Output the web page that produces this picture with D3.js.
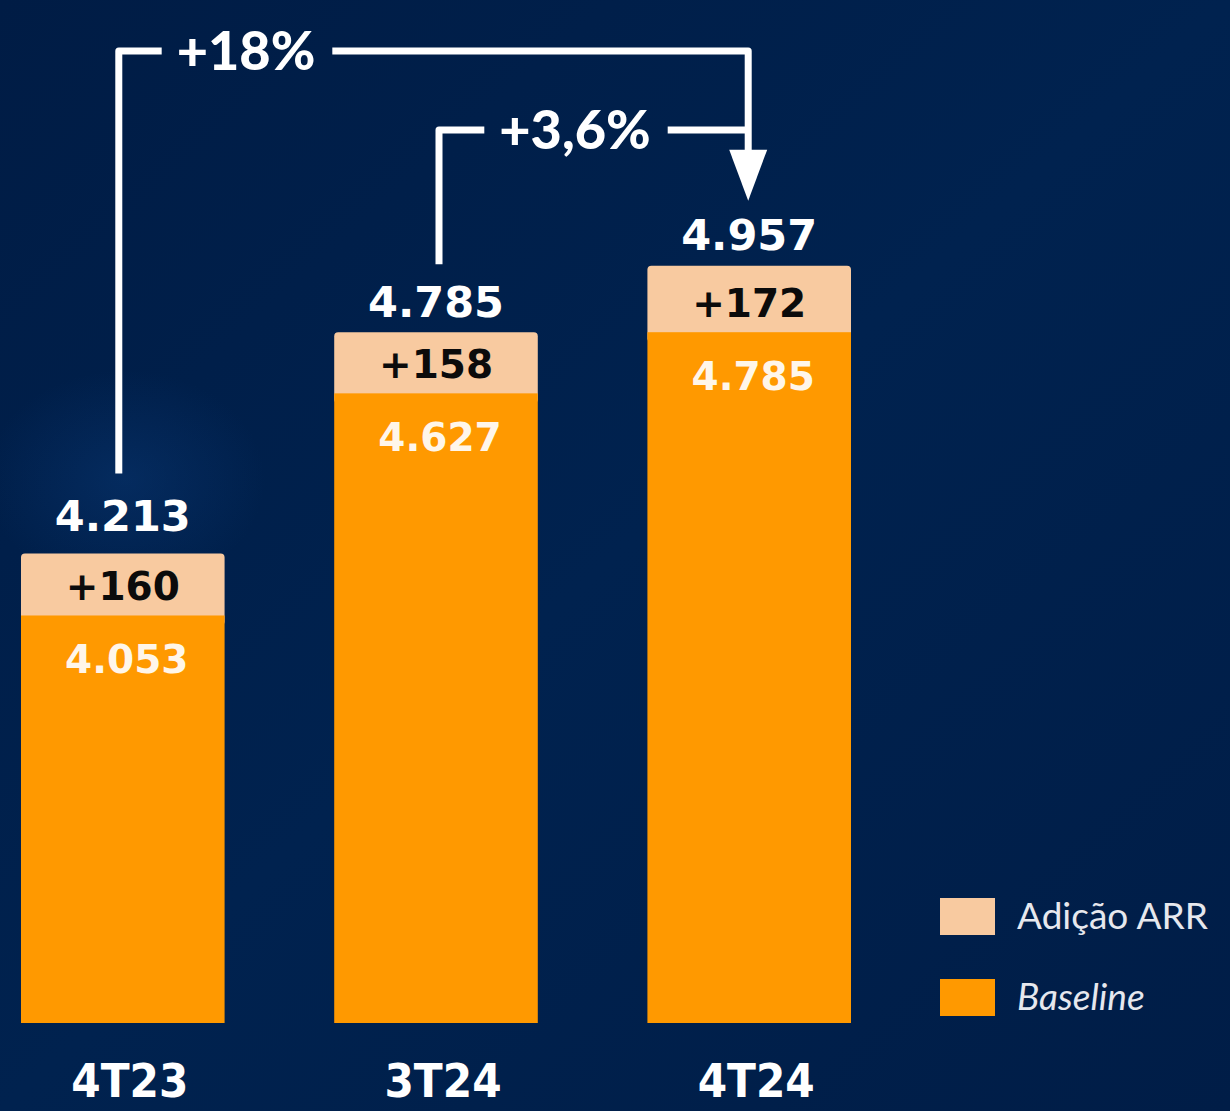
<!DOCTYPE html>
<html>
<head>
<meta charset="utf-8">
<script src="https://cdn.jsdelivr.net/npm/d3@7"></script>
<style>
  html, body { margin: 0; padding: 0; background: #001f4a; }
  svg { display: block; }
</style>
</head>
<body>
<svg id="chart" width="1230" height="1111"></svg>
<script>
// dados (ARR)
var categories = ["4T23", "3T24", "4T24"];
var baseline = [4053, 4627, 4785];
var added = [160, 158, 172];
var totals = [4213, 4785, 4957];
var growthLabels = ["+18%", "+3,6%"];
var growthFrom = [0, 1];   // indice da barra de origem
var growthTo = [2, 2];     // indice da barra de destino
var legendLabels = ["Adição ARR", "Baseline"];

var W = 1230, H = 1111;
var orange = "#ff9900", peach = "#f8caa0";

var svg = d3.select("#chart");

// fundo
var defs = svg.append("defs");
var bg = defs.append("linearGradient").attr("id", "bg").attr("x1", 0).attr("y1", 0).attr("x2", 1).attr("y2", 1);
bg.append("stop").attr("offset", "0%").attr("stop-color", "#001c45");
bg.append("stop").attr("offset", "50%").attr("stop-color", "#00224f");
bg.append("stop").attr("offset", "100%").attr("stop-color", "#001d47");
svg.append("rect").attr("width", W).attr("height", H).attr("fill", "url(#bg)");

var glow = defs.append("radialGradient").attr("id", "glow");
glow.append("stop").attr("offset", "0%").attr("stop-color", "#0a3a78").attr("stop-opacity", 0.45);
glow.append("stop").attr("offset", "100%").attr("stop-color", "#0a3a78").attr("stop-opacity", 0);
svg.append("ellipse").attr("cx", 125).attr("cy", 480).attr("rx", 140).attr("ry", 110).attr("fill", "url(#glow)");

var x = d3.scaleBand().domain(categories).range([21, 851]).paddingInner(0.35).paddingOuter(0);
var y = d3.scaleLinear().domain([3000, 5000]).range([1023, 249]);

var rows = categories.map(function (c, i) {
  return { cat: c, base: baseline[i], add: added[i], total: totals[i], i: i };
});

var totalGap = [23, 15, 16];

var bars = svg.append("g").selectAll("g").data(rows).enter().append("g");

// segmento superior (adição) com cantos arredondados
bars.append("rect")
  .attr("x", function (d) { return x(d.cat); })
  .attr("y", function (d) { return y(d.total); })
  .attr("width", x.bandwidth())
  .attr("height", function (d) { return y(d.base) - y(d.total) + 10; })
  .attr("rx", 4)
  .attr("fill", peach);

// baseline
bars.append("rect")
  .attr("x", function (d) { return x(d.cat); })
  .attr("y", function (d) { return y(d.base); })
  .attr("width", x.bandwidth())
  .attr("height", function (d) { return y(3000) - y(d.base); })
  .attr("fill", orange);

var valueFont = "'DejaVu Sans', Verdana, sans-serif";
var fmt = function (v) { return d3.format(",")(v).replace(/,/g, "."); };

bars.append("text")
  .attr("x", function (d) { return x(d.cat) + x.bandwidth() / 2; })
  .attr("y", function (d) { return y(d.total) - totalGap[d.i]; })
  .attr("text-anchor", "middle")
  .style("font-family", valueFont).style("font-weight", "bold").style("font-size", "43px")
  .attr("fill", "#ffffff")
  .text(function (d) { return fmt(d.total); });

bars.append("text")
  .attr("x", function (d) { return x(d.cat) + x.bandwidth() / 2; })
  .attr("y", function (d) { return y(d.base) - 15; })
  .attr("text-anchor", "middle")
  .style("font-family", valueFont).style("font-weight", "bold").style("font-size", "39px")
  .attr("fill", "#0b0b0b")
  .text(function (d) { return "+" + d.add; });

bars.append("text")
  .attr("x", function (d) { return x(d.cat) + x.bandwidth() / 2 + 4; })
  .attr("y", function (d) { return y(d.base) + 58; })
  .attr("text-anchor", "middle")
  .style("font-family", valueFont).style("font-weight", "bold").style("font-size", "39px")
  .attr("fill", "#fff6ea")
  .text(function (d) { return fmt(d.base); });

// eixo x
var xAxis = svg.append("g").attr("transform", "translate(7,1097)")
  .call(d3.axisBottom(x).tickSize(0).tickPadding(0));
xAxis.select(".domain").remove();
xAxis.selectAll("text")
  .attr("dy", 0).attr("y", 0)
  .style("font-family", "'DejaVu Sans Condensed', 'DejaVu Sans', sans-serif")
  .style("font-weight", "bold").style("font-size", "47px")
  .attr("fill", "#ffffff");

// setas de crescimento
var levels = [51, 130];
var labelX = [246, 575];
var bottomGap = [80, 68];
var startShift = [-4, 3];
var arrows = svg.append("g");
var cx = function (i) { return x(categories[i]) + x.bandwidth() / 2; };

growthLabels.forEach(function (lab, k) {
  var t = arrows.append("text")
    .attr("x", labelX[k]).attr("y", levels[k] + 19)
    .attr("text-anchor", "middle")
    .style("font-family", "Lato, sans-serif").style("font-weight", "900").style("font-size", "54px")
    .attr("fill", "#ffffff")
    .text(lab);
  var bb = t.node().getBBox();
  var x0 = cx(growthFrom[k]) + startShift[k], x1 = cx(growthTo[k]) - 1;
  var yb = y(totals[growthFrom[k]]) - bottomGap[k];
  arrows.append("path")
    .attr("d", "M" + x0 + "," + yb + "V" + levels[k] + "H" + (bb.x - 15))
    .attr("fill", "none").attr("stroke", "#fff").attr("stroke-width", 7).attr("stroke-linejoin", "round");
  var right = "M" + (bb.x + bb.width + 17) + "," + levels[k] + "H" + x1;
  if (k === 0) right += "V152";
  arrows.append("path")
    .attr("d", right)
    .attr("fill", "none").attr("stroke", "#fff").attr("stroke-width", 7).attr("stroke-linejoin", "round");
});

// ponta da seta
var tipX = cx(2) - 1, tipY = y(totals[2]) - 65;
arrows.append("path")
  .attr("d", "M" + (tipX - 19) + "," + (tipY - 51) + "L" + (tipX + 19) + "," + (tipY - 51) + "L" + tipX + "," + tipY + "Z")
  .attr("fill", "#fff");

// legenda
var legend = svg.append("g").attr("transform", "translate(940,898)");
var lg = legend.selectAll("g").data(legendLabels).enter().append("g")
  .attr("transform", function (d, i) { return "translate(0," + (i * 81) + ")"; });
lg.append("rect").attr("width", 55).attr("height", 37)
  .attr("fill", function (d, i) { return i === 0 ? peach : orange; });
lg.append("text").attr("x", 77).attr("y", 31)
  .style("font-family", "Lato, sans-serif").style("font-size", "37px")
  .style("font-style", function (d, i) { return i === 1 ? "italic" : "normal"; })
  .attr("fill", "#e6e8ee")
  .text(function (d) { return d; });
</script>
</body>
</html>
